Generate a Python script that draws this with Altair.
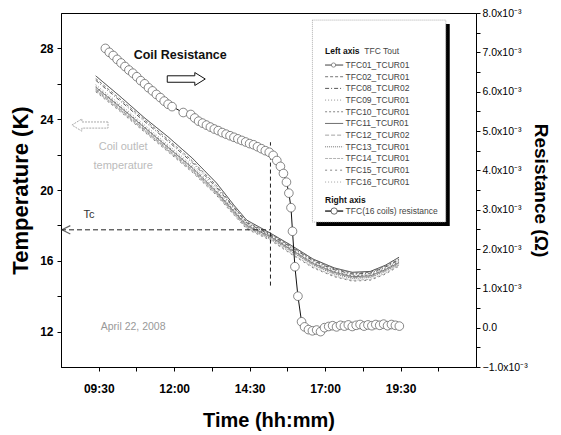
import altair as alt
import pandas as pd

# ---------------- data ----------------
# coil outlet temperatures (left axis, K); time in decimal hours
temp_time = [9.4, 10.2, 11.0, 11.8, 12.6, 13.4, 14.0, 14.4, 15.2, 15.9, 16.6, 17.3, 17.9, 18.5, 19.0, 19.45]
temp_names = ["TFC01_TCUR01", "TFC02_TCUR01", "TFC08_TCUR02", "TFC09_TCUR01", "TFC10_TCUR01",
              "TFC11_TCUR01", "TFC12_TCUR02", "TFC13_TCUR01", "TFC14_TCUR01", "TFC15_TCUR01",
              "TFC16_TCUR01"]
tfc01 = [26.45, 25.3, 24.1, 23.0, 21.8, 20.4, 19.1, 18.3, 17.55, 16.85, 16.1, 15.6, 15.35, 15.4, 15.75, 16.2]
tfc02 = [26.3, 25.15, 24.0, 22.85, 21.65, 20.25, 19.0, 18.2, 17.5, 16.8, 16.05, 15.55, 15.3, 15.35, 15.7, 16.1]
tfc08 = [26.2, 25.05, 23.9, 22.75, 21.55, 20.15, 18.95, 18.15, 17.45, 16.75, 16.0, 15.5, 15.25, 15.3, 15.65, 16.05]
tfc09 = [25.95, 24.85, 23.7, 22.55, 21.4, 20.05, 18.85, 18.1, 17.4, 16.7, 15.95, 15.45, 15.2, 15.25, 15.6, 16.0]
tfc10 = [25.85, 24.75, 23.6, 22.45, 21.3, 19.95, 18.8, 18.05, 17.4, 16.65, 15.9, 15.4, 15.15, 15.2, 15.55, 15.95]
tfc11 = [25.8, 24.7, 23.55, 22.4, 21.25, 19.9, 18.75, 18.0, 17.35, 16.6, 15.85, 15.35, 15.1, 15.15, 15.5, 15.9]
tfc12 = [25.7, 24.6, 23.45, 22.3, 21.15, 19.85, 18.7, 17.95, 17.3, 16.55, 15.8, 15.3, 15.05, 15.1, 15.45, 15.85]
tfc13 = [25.65, 24.55, 23.4, 22.25, 21.1, 19.8, 18.65, 17.9, 17.25, 16.5, 15.75, 15.25, 15.0, 15.05, 15.4, 15.8]
tfc14 = [25.6, 24.5, 23.35, 22.2, 21.05, 19.75, 18.6, 17.85, 17.2, 16.4, 15.65, 15.15, 14.9, 14.95, 15.3, 15.75]
tfc15 = [25.55, 24.45, 23.3, 22.15, 21.0, 19.7, 18.55, 17.8, 17.15, 16.35, 15.6, 15.1, 14.85, 14.9, 15.25, 15.7]
tfc16 = [25.75, 24.65, 23.5, 22.35, 21.2, 19.85, 18.7, 17.95, 17.3, 16.55, 15.8, 15.3, 15.05, 15.1, 15.45, 15.85]
temp_series = [tfc01, tfc02, tfc08, tfc09, tfc10, tfc11, tfc12, tfc13, tfc14, tfc15, tfc16]

# coil resistance (right axis, units of 1e-3 ohm)
res_time = [9.72, 9.85, 9.98, 10.11, 10.24, 10.37, 10.50, 10.63, 10.76, 10.89, 11.02, 11.15, 11.28,
            11.41, 11.54, 11.67, 11.80, 11.93, 12.30, 12.55, 12.68, 12.81, 12.94, 13.07, 13.20, 13.33,
            13.46, 13.59, 13.72, 13.85, 13.98, 14.11, 14.24, 14.37, 14.50, 14.63, 14.76, 14.89, 15.02,
            15.15, 15.28, 15.40, 15.52, 15.62, 15.72, 15.80, 15.87, 15.92, 16.00, 16.10, 16.22, 16.32,
            16.45, 16.58, 16.72, 16.85, 16.98, 17.12, 17.25, 17.38, 17.51, 17.64, 17.77, 17.90, 18.03,
            18.16, 18.29, 18.42, 18.55, 18.68, 18.81, 18.94, 19.07, 19.20, 19.33, 19.46]
res_mohm = [7.10, 7.00, 6.92, 6.82, 6.73, 6.64, 6.55, 6.47, 6.38, 6.28, 6.20, 6.10, 6.02,
            5.93, 5.85, 5.76, 5.68, 5.62, 5.47, 5.42, 5.33, 5.25, 5.20, 5.15, 5.10, 5.05,
            5.01, 4.96, 4.92, 4.88, 4.84, 4.80, 4.76, 4.72, 4.68, 4.65, 4.60, 4.55, 4.50,
            4.46, 4.38, 4.25, 4.10, 3.92, 3.70, 3.42, 3.05, 2.45, 1.55, 0.80, 0.15, 0.02,
            -0.05, -0.08, -0.06, -0.10, 0.00, 0.03, 0.05, 0.02, 0.06, 0.04, 0.07, 0.03, 0.06,
            0.08, 0.04, 0.07, 0.05, 0.08, 0.06, 0.09, 0.05, 0.08, 0.06, 0.04]

# axis ticks
x_ticks = [9.5, 10.75, 12.0, 13.25, 14.5, 15.75, 17.0, 18.25, 19.5, 20.75]
left_ticks = [12, 14, 16, 18, 20, 22, 24, 26, 28]
right_ticks = [-1.0, -0.5, 0.0, 0.5, 1.0, 1.5, 2.0, 2.5, 3.0, 3.5, 4.0, 4.5, 5.0, 5.5, 6.0, 6.5, 7.0, 7.5, 8.0]

# Tc marker
tc_value = 17.75
tc_time = 15.19

# ---------------- styles ----------------
temp_colors = ["#222222", "#666666", "#444444", "#888888", "#777777", "#555555",
               "#999999", "#666666", "#aaaaaa", "#777777", "#999999"]
temp_dashes = [[1, 0], [3, 2], [4, 2, 1, 2], [1, 2], [2, 2], [1, 0], [4, 2], [1, 1], [3, 1], [2, 3], [1, 2]]

FONT = "Liberation Sans"

# ---------------- frames ----------------
rows = []
for name, vals in zip(temp_names, temp_series):
    for t, v in zip(temp_time, vals):
        rows.append({"name": name, "h": t, "T": v})
temp_df = pd.DataFrame(rows)
res_df = pd.DataFrame({"h": res_time, "R": res_mohm})

xscale = alt.Scale(domain=[8.25, 22.0], nice=False, zero=False)
tscale = alt.Scale(domain=[10, 30], nice=False, zero=False)
rscale = alt.Scale(domain=[-1, 8], nice=False, zero=False)
cscale = alt.Scale(domain=temp_names, range=temp_colors)
dscale = alt.Scale(domain=temp_names, range=temp_dashes)

x_axis = alt.Axis(
    values=x_ticks,
    labelExpr="(datum.value*2) % 1 != 0 ? '' : ((datum.value < 10 ? '0' : '') + floor(datum.value) + ':' + (datum.value % 1 == 0 ? '00' : '30'))",
    title="Time (hh:mm)", titleFontSize=20, titleFontWeight="bold", titlePadding=16,
    labelFontSize=12, labelFontWeight="bold", labelPadding=12, tickSize=4, grid=False,
    domainColor="black", tickColor="black", labelColor="black", titleColor="black",
    labelFont=FONT, titleFont=FONT,
)
left_axis = alt.Axis(
    orient="left", values=left_ticks,
    labelExpr="datum.value % 4 == 0 ? datum.value : ''",
    title="Temperature (K)", titleFontSize=22, titleFontWeight="bold", titlePadding=7,
    labelFontSize=12, labelFontWeight="bold", labelPadding=4, tickSize=4, grid=False,
    domainColor="black", tickColor="black", labelColor="black", titleColor="black",
    labelFont=FONT, titleFont=FONT,
)
right_axis = alt.Axis(
    orient="right", values=right_ticks,
    labelExpr="datum.value % 1 != 0 ? '' : (datum.value == 0 ? '0.0' : format(datum.value, '.1f') + 'x10\u207b\u00b3')",
    title="Resistance (\u03a9)", titleFontSize=19, titleFontWeight="bold", titlePadding=3,
    labelFontSize=10.5, labelPadding=2, tickSize=4, grid=False,
    domainColor="black", tickColor="black", labelColor="black", titleColor="black",
    labelFont=FONT, titleFont=FONT,
)


def X(field="h"):
    return alt.X(f"{field}:Q", scale=xscale, axis=x_axis)


def Y(field="T"):
    return alt.Y(f"{field}:Q", scale=tscale, axis=left_axis)


# temperature lines
temp_lines = alt.Chart(temp_df).mark_line(strokeWidth=0.9).encode(
    x=X(), y=Y(),
    color=alt.Color("name:N", scale=cscale, legend=None),
    strokeDash=alt.StrokeDash("name:N", scale=dscale, legend=None),
    detail="name:N",
    order=alt.Order("h:Q"),
)

# Tc guide lines
vline = alt.Chart(pd.DataFrame({"h": [tc_time], "T": [14.6], "T2": [22.7]})).mark_rule(
    color="#222", strokeDash=[4, 3], strokeWidth=1).encode(x=X(), y=Y(), y2="T2:Q")
hline = alt.Chart(pd.DataFrame({"h": [8.25], "h2": [tc_time], "T": [tc_value]})).mark_rule(
    color="#222", strokeDash=[5, 3], strokeWidth=1).encode(x=X(), x2="h2:Q", y=Y())
arrow_head = alt.Chart(pd.DataFrame({"h": [8.42], "T": [tc_value]})).mark_point(
    shape="M1,-1L-1,0L1,1", filled=False, stroke="#222", strokeWidth=1.2, size=70).encode(x=X(), y=Y())

# hollow block arrows
right_arrow = alt.Chart(pd.DataFrame({"h": [12.4], "T": [26.27]})).mark_point(
    shape="M-1,-0.17L0.45,-0.17L0.45,-0.34L1,0L0.45,0.34L0.45,0.17L-1,0.17Z",
    filled=True, fill="white", stroke="#111", strokeWidth=1, size=1444, opacity=1).encode(x=X(), y=Y())
left_arrow = alt.Chart(pd.DataFrame({"h": [9.21], "T": [23.67]})).mark_point(
    shape="M1,-0.17L-0.45,-0.17L-0.45,-0.34L-1,0L-0.45,0.34L-0.45,0.17L1,0.17Z",
    filled=True, fill="white", stroke="#aaa", strokeDash=[2, 1], strokeWidth=1, size=1300, opacity=1).encode(x=X(), y=Y())

# annotation texts
t_coil_res = alt.Chart(pd.DataFrame({"h": [12.2], "T": [27.63], "t": ["Coil Resistance"]})).mark_text(
    font=FONT, fontSize=12.5, fontWeight="bold", color="#111").encode(x=X(), y=Y(), text="t:N")
t_outlet = alt.Chart(pd.DataFrame({"h": [10.31, 10.31], "T": [22.43, 21.38], "t": ["Coil outlet", "temperature"]})).mark_text(
    font=FONT, fontSize=11, color="#bbbbbb").encode(x=X(), y=Y(), text="t:N")
t_date = alt.Chart(pd.DataFrame({"h": [10.64], "T": [12.26], "t": ["April 22, 2008"]})).mark_text(
    font=FONT, fontSize=10.5, color="#999999").encode(x=X(), y=Y(), text="t:N")
t_tc = alt.Chart(pd.DataFrame({"h": [9.18], "T": [18.6], "t": ["Tc"]})).mark_text(
    font=FONT, fontSize=11, color="#333").encode(x=X(), y=Y(), text="t:N")

# legend box
leg_shadow = alt.Chart(pd.DataFrame({"h": [16.71], "h2": [21.13], "T": [17.97], "T2": [29.38]})).mark_rect(
    color="black").encode(x=X(), x2="h2:Q", y=Y(), y2="T2:Q")
leg_box = alt.Chart(pd.DataFrame({"h": [16.58], "h2": [21.0], "T": [18.19], "T2": [29.6]})).mark_rect(
    fill="white", stroke="#999", strokeDash=[1, 1], strokeWidth=0.8).encode(x=X(), x2="h2:Q", y=Y(), y2="T2:Q")

leg_rows_T = [27.06, 26.40, 25.74, 25.08, 24.42, 23.76, 23.10, 22.44, 21.78, 21.12, 20.45]
leg_df = pd.DataFrame({"name": temp_names, "T": leg_rows_T, "h": [17.68] * 11,
                       "hs": [17.0] * 11, "hs2": [17.6] * 11})
leg_text = alt.Chart(leg_df).mark_text(font=FONT, fontSize=8.5, color="#444", align="left").encode(
    x=X(), y=Y(), text="name:N")
leg_samples = alt.Chart(leg_df).mark_rule(strokeWidth=0.9).encode(
    x=X("hs"), x2="hs2:Q", y=Y(),
    color=alt.Color("name:N", scale=cscale, legend=None),
    strokeDash=alt.StrokeDash("name:N", scale=dscale, legend=None))
leg_mark01 = alt.Chart(pd.DataFrame({"h": [17.28], "T": [leg_rows_T[0]]})).mark_point(
    filled=True, fill="white", stroke="#666", strokeWidth=0.7, size=18, opacity=1).encode(x=X(), y=Y())
leg_heads = alt.Chart(pd.DataFrame({"h": [17.0, 17.0], "T": [27.85, 19.44], "t": ["Left axis", "Right axis"]})).mark_text(
    font=FONT, fontSize=8.5, fontWeight="bold", color="#111", align="left").encode(x=X(), y=Y(), text="t:N")
leg_tout = alt.Chart(pd.DataFrame({"h": [18.3], "T": [27.85], "t": ["TFC Tout"]})).mark_text(
    font=FONT, fontSize=8.5, color="#444", align="left").encode(x=X(), y=Y(), text="t:N")
leg_res_line = alt.Chart(pd.DataFrame({"h": [17.0], "h2": [17.6], "T": [18.81]})).mark_rule(
    color="#111", strokeWidth=1.3).encode(x=X(), x2="h2:Q", y=Y())
leg_res_pt = alt.Chart(pd.DataFrame({"h": [17.3], "T": [18.81]})).mark_point(
    filled=True, fill="white", stroke="#444", strokeWidth=0.8, size=40, opacity=1).encode(x=X(), y=Y())
leg_res_text = alt.Chart(pd.DataFrame({"h": [17.68], "T": [18.81], "t": ["TFC(16 coils) resistance"]})).mark_text(
    font=FONT, fontSize=8.5, color="#444", align="left").encode(x=X(), y=Y(), text="t:N")

left_layer = alt.layer(
    temp_lines, vline, hline, arrow_head, right_arrow, left_arrow,
    t_coil_res, t_outlet, t_date, t_tc,
    leg_shadow, leg_box, leg_samples, leg_mark01, leg_text, leg_heads, leg_tout,
    leg_res_line, leg_res_pt, leg_res_text,
)

# resistance (right axis)
RY = alt.Y("R:Q", scale=rscale, axis=right_axis)
res_line = alt.Chart(res_df).mark_line(color="#111", strokeWidth=1).encode(
    x=X(), y=RY, order=alt.Order("h:Q"))
res_pts = alt.Chart(res_df).mark_point(
    filled=True, fill="white", stroke="#555", strokeWidth=0.7, size=75, opacity=1).encode(
    x=X(), y=RY)
right_layer = alt.layer(res_line, res_pts)

chart = alt.layer(left_layer, right_layer).resolve_scale(y="independent").properties(
    width=415, height=354,
    autosize=alt.AutoSizeParams(type="none"),
    padding={"left": 53, "top": 5, "right": 77, "bottom": 66},
    background="white",
).configure_view(stroke="black", strokeWidth=1)

chart.save("out.html", embed_options={"renderer": "svg", "actions": False})
